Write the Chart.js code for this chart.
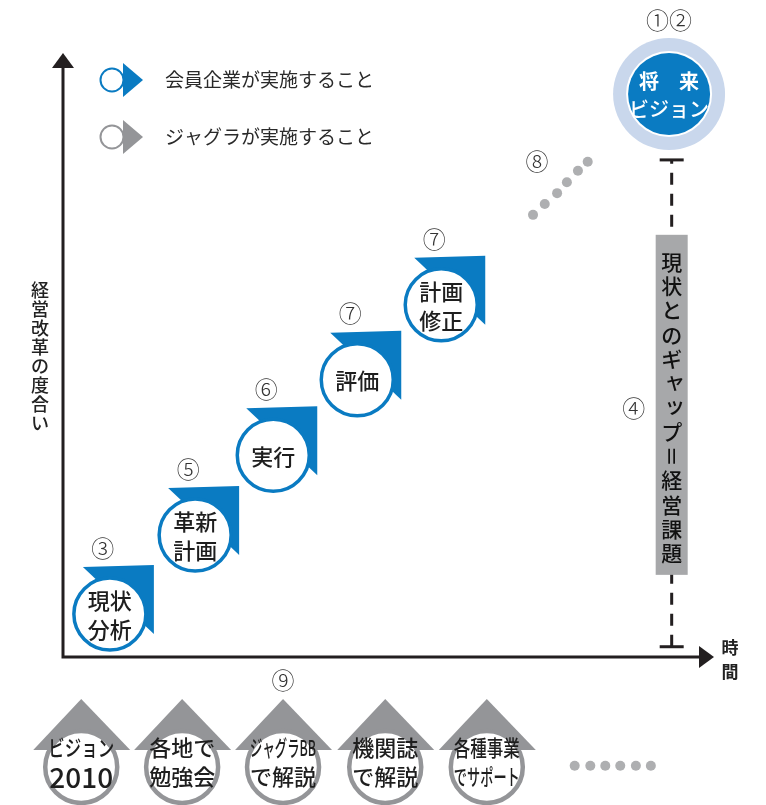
<!DOCTYPE html>
<html>
<head>
<meta charset="utf-8">
<script src="https://cdn.jsdelivr.net/npm/chart.js@4"></script>
<style>
  html, body { margin: 0; padding: 0; background: #fff; }
  canvas { display: block; }
</style>
</head>
<body>
<canvas id="chart" width="766" height="805"></canvas>
<script>
// Steps taken by member companies (time, degree of reform)
const stepLabels = [['現状', '分析'], ['革新', '計画'], ['実行'], ['評価'], ['計画', '修正']];
const stepX = [0.72, 2.03, 3.23, 4.52, 5.81];
const stepY = [0.71, 2.02, 3.34, 4.59, 5.83];
const stepMarks = ['③', '⑤', '⑥', '⑦', '⑦'];

// Support given by Jagra (drawn below the time axis)
const supportLabels = [['ビジョン', '2010'], ['各地で', '勉強会'], ['ジャグラBB', 'で解説'], ['機関誌', 'で解説'], ['各種事業', 'でサポート']];
const supportX = [0.28, 1.83, 3.38, 4.95, 6.51];
const supportY = [-1.82, -1.82, -1.82, -1.82, -1.82];

// "and so on" dots
const nextDotsX = [7.22, 7.40, 7.59, 7.74, 7.91, 8.06];
const nextDotsY = [7.32, 7.50, 7.68, 7.86, 8.05, 8.20];
const moreDotsX = [7.86, 8.10, 8.33, 8.56, 8.80, 9.03];
const moreDotsY = [-1.80, -1.80, -1.80, -1.80, -1.80, -1.80];

// Future vision and the gap to it
const visionX = 9.31, visionY = 9.32;
const gapX = 9.35;
const gapFrom = 0.17, gapTo = 8.23;
const gapBoxFrom = 1.36, gapBoxTo = 6.99;
const gapText = '現状とのギャップ=経営課題';

const BLUE = '#0a7bc2';
const GRAY = '#949598';
const DOT = '#aeafb1';
const INK = '#231f20';
const JP = '"Noto Sans CJK JP", "Noto Sans", sans-serif';

const toPoints = (xs, ys) => xs.map((x, i) => ({ x: x, y: ys[i] }));

function drawStep(ctx, x, y, lines, color) {
  ctx.fillStyle = color;
  ctx.beginPath();
  ctx.moveTo(x - 27, y - 47);
  ctx.lineTo(x + 44, y - 49);
  ctx.lineTo(x + 44, y + 20);
  ctx.closePath();
  ctx.fill();

  ctx.beginPath();
  ctx.arc(x, y, 36, 0, Math.PI * 2);
  ctx.fillStyle = '#fff';
  ctx.fill();
  ctx.lineWidth = 3.5;
  ctx.strokeStyle = color;
  ctx.stroke();

  ctx.fillStyle = '#1e1e1e';
  ctx.font = '500 22px ' + JP;
  ctx.textAlign = 'center';
  ctx.textBaseline = 'middle';
  if (lines.length === 1) {
    ctx.fillText(lines[0], x, y + 1);
  } else {
    ctx.fillText(lines[0], x, y - 13);
    ctx.fillText(lines[1], x, y + 16);
  }
}

function drawSupport(ctx, x, y, lines) {
  ctx.fillStyle = GRAY;
  ctx.beginPath();
  ctx.moveTo(x, y - 68);
  ctx.lineTo(x + 49, y - 17);
  ctx.lineTo(x - 48, y - 17);
  ctx.closePath();
  ctx.fill();

  ctx.beginPath();
  ctx.arc(x, y, 36, 0, Math.PI * 2);
  ctx.fillStyle = '#fff';
  ctx.fill();
  ctx.lineWidth = 4.5;
  ctx.strokeStyle = GRAY;
  ctx.stroke();

  ctx.fillStyle = '#1e1e1e';
  ctx.textAlign = 'center';
  ctx.textBaseline = 'middle';
  ctx.font = '500 22px ' + JP;
  ctx.fillText(lines[0], x, y - 19, 66);
  if (/^\d+$/.test(lines[1])) ctx.font = '500 28px ' + JP;
  ctx.fillText(lines[1], x, y + 10, 66);
}

function drawLegendIcon(ctx, x, y, color) {
  ctx.fillStyle = color;
  ctx.beginPath();
  ctx.moveTo(x + 11, y - 17);
  ctx.lineTo(x + 31, y);
  ctx.lineTo(x + 11, y + 17);
  ctx.closePath();
  ctx.fill();
  ctx.beginPath();
  ctx.arc(x, y, 11.5, 0, Math.PI * 2);
  ctx.fillStyle = '#fff';
  ctx.fill();
  ctx.lineWidth = 2;
  ctx.strokeStyle = color;
  ctx.stroke();
}

function verticalText(ctx, text, x, y, pitch) {
  [...text].forEach((ch, i) => {
    const cy = y + i * pitch;
    ctx.save();
    if (ch === '=') {
      ctx.translate(x, cy);
      ctx.rotate(Math.PI / 2);
      ctx.fillText('＝', 0, 0);
    } else if ('ャュョッ'.includes(ch)) {
      ctx.fillText(ch, x + 3, cy - 3);
    } else {
      ctx.fillText(ch, x, cy);
    }
    ctx.restore();
  });
}

const diagram = {
  id: 'diagram',
  beforeDatasetsDraw(chart) {
    const { ctx, chartArea: a } = chart;
    ctx.save();
    // axes with arrowheads
    ctx.strokeStyle = INK;
    ctx.fillStyle = INK;
    ctx.lineWidth = 3;
    ctx.beginPath();
    ctx.moveTo(a.left, a.top + 12);
    ctx.lineTo(a.left, a.bottom);
    ctx.lineTo(a.right - 12, a.bottom);
    ctx.stroke();
    ctx.beginPath();
    ctx.moveTo(a.left, a.top);
    ctx.lineTo(a.left + 11, a.top + 15);
    ctx.lineTo(a.left - 11, a.top + 15);
    ctx.closePath();
    ctx.fill();
    ctx.beginPath();
    ctx.moveTo(a.right, a.bottom);
    ctx.lineTo(a.right - 15, a.bottom - 11);
    ctx.lineTo(a.right - 15, a.bottom + 11);
    ctx.closePath();
    ctx.fill();

    // axis titles
    ctx.fillStyle = '#222';
    ctx.textAlign = 'center';
    ctx.textBaseline = 'middle';
    ctx.font = '500 18px ' + JP;
    verticalText(ctx, '経営改革の度合い', a.left - 23, 290, 19);
    ctx.font = 'bold 17px ' + JP;
    ctx.fillText('時', a.right + 16, a.bottom - 9);
    ctx.fillText('間', a.right + 16, a.bottom + 15);
    ctx.restore();
  },
  afterDatasetsDraw(chart) {
    const { ctx, chartArea: a, scales: { x: sx, y: sy } } = chart;
    ctx.save();

    // gap bar ends and label box
    const gx = sx.getPixelForValue(gapX);
    ctx.strokeStyle = INK;
    ctx.lineWidth = 3;
    [gapFrom, gapTo].forEach(v => {
      const py = sy.getPixelForValue(v);
      ctx.beginPath();
      ctx.moveTo(gx - 12, py);
      ctx.lineTo(gx + 12, py);
      ctx.stroke();
    });
    const bTop = sy.getPixelForValue(gapBoxTo);
    const bBot = sy.getPixelForValue(gapBoxFrom);
    ctx.fillStyle = '#a7a8aa';
    ctx.fillRect(gx - 16, bTop, 32, bBot - bTop);
    ctx.fillStyle = '#111';
    ctx.font = '500 21px ' + JP;
    ctx.textAlign = 'center';
    ctx.textBaseline = 'middle';
    verticalText(ctx, gapText, gx, bTop + 27, 24.3);

    // future vision
    const vx = sx.getPixelForValue(visionX);
    const vy = sy.getPixelForValue(visionY);
    ctx.beginPath();
    ctx.arc(vx, vy, 56, 0, Math.PI * 2);
    ctx.fillStyle = '#c9d7ec';
    ctx.fill();
    ctx.beginPath();
    ctx.arc(vx, vy, 43, 0, Math.PI * 2);
    ctx.fillStyle = '#fff';
    ctx.fill();
    ctx.beginPath();
    ctx.arc(vx, vy, 41, 0, Math.PI * 2);
    ctx.fillStyle = BLUE;
    ctx.fill();
    ctx.fillStyle = '#fff';
    ctx.font = 'bold 20px ' + JP;
    ctx.fillText('将　来', vx, vy - 13);
    ctx.font = '500 20px ' + JP;
    ctx.fillText('ビジョン', vx, vy + 15);

    // steps
    const stepMeta = chart.getDatasetMeta(0);
    stepMeta.data.forEach((pt, i) => {
      drawStep(ctx, pt.x, pt.y, stepLabels[i], BLUE);
    });
    // supports
    const supMeta = chart.getDatasetMeta(1);
    supMeta.data.forEach((pt, i) => {
      drawSupport(ctx, pt.x, pt.y, supportLabels[i]);
    });
    // dots below the axis (outside the chart area, so drawn here)
    ctx.fillStyle = DOT;
    chart.getDatasetMeta(3).data.forEach(pt => {
      ctx.beginPath();
      ctx.arc(pt.x, pt.y, 5, 0, Math.PI * 2);
      ctx.fill();
    });

    // circled numbers
    ctx.fillStyle = '#333';
    ctx.font = '300 23px ' + JP;
    ctx.textAlign = 'center';
    ctx.textBaseline = 'middle';
    stepMeta.data.forEach((pt, i) => ctx.fillText(stepMarks[i], pt.x - 7, pt.y - 66));
    ctx.fillText('①②', vx, vy - 74);
    ctx.fillText('④', gx - 38, sy.getPixelForValue((gapBoxFrom + gapBoxTo) / 2) + 3);
    ctx.fillText('⑧', sx.getPixelForValue(nextDotsX[0]) + 4, sy.getPixelForValue(nextDotsY[5]));
    ctx.fillText('⑨', supMeta.data[2].x, a.bottom + 23);

    // legend
    const lx = a.left + 49;
    drawLegendIcon(ctx, lx, 80, BLUE);
    drawLegendIcon(ctx, lx, 137, GRAY);
    ctx.fillStyle = '#2a2a2a';
    ctx.font = '19px ' + JP;
    ctx.textAlign = 'left';
    ctx.fillText('会員企業が実施すること', lx + 53, 80);
    ctx.fillText('ジャグラが実施すること', lx + 53, 137);

    ctx.restore();
  }
};

new Chart(document.getElementById('chart'), {
  type: 'scatter',
  data: {
    datasets: [
      { label: 'steps', data: toPoints(stepX, stepY), pointRadius: 0, clip: false },
      { label: 'support', data: toPoints(supportX, supportY), pointRadius: 0, clip: false },
      { label: 'next', data: toPoints(nextDotsX, nextDotsY), pointRadius: 5, backgroundColor: DOT, borderWidth: 0, clip: false },
      { label: 'more', data: toPoints(moreDotsX, moreDotsY), pointRadius: 0, clip: false },
      {
        label: 'gap',
        data: [{ x: gapX, y: gapFrom }, { x: gapX, y: gapTo }],
        showLine: true,
        borderColor: INK,
        borderWidth: 3,
        borderDash: [12, 9],
        pointRadius: 0,
        clip: false
      }
    ]
  },
  options: {
    responsive: false,
    devicePixelRatio: 1,
    animation: false,
    events: [],
    layout: { padding: { left: 63, top: 53, right: 52, bottom: 148 } },
    plugins: { legend: { display: false }, tooltip: { enabled: false } },
    scales: {
      x: { type: 'linear', min: 0, max: 10, display: false },
      y: { type: 'linear', min: 0, max: 10, display: false }
    }
  },
  plugins: [diagram]
});
</script>
</body>
</html>
